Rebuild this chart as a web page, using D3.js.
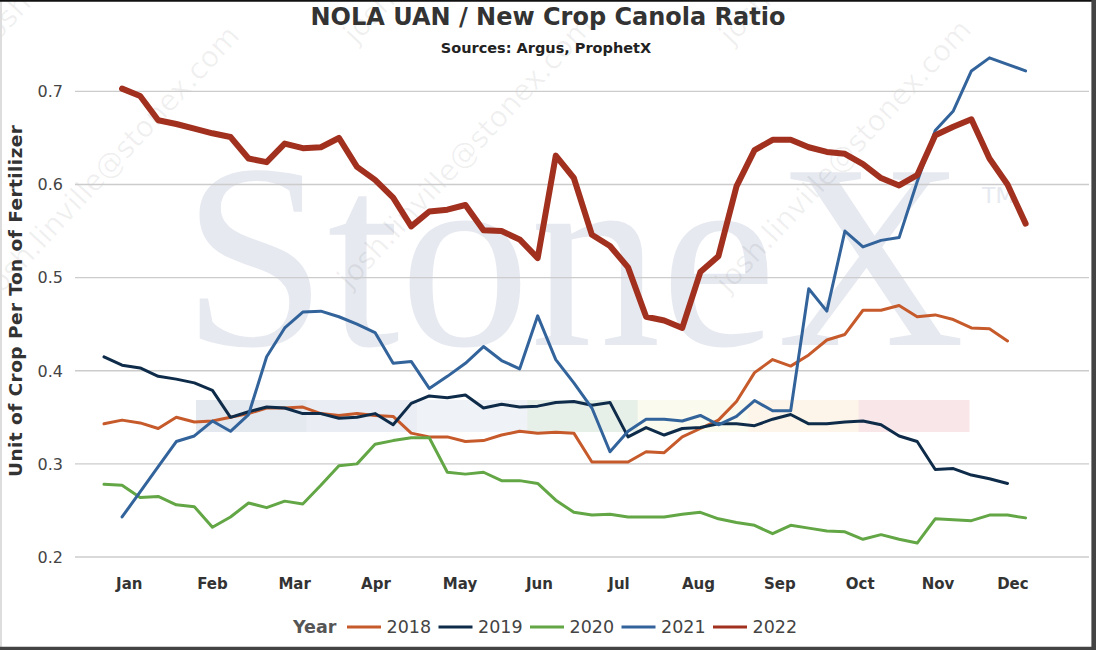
<!DOCTYPE html>
<html lang="en">
<head>
<meta charset="utf-8">
<script src="https://d3js.org/d3.v7.min.js"></script>
<style>
  body { margin: 0; background: #fff; }
  svg { display: block; }
</style>
</head>
<body>
<div class="display1"></div>
<script>
// ---- data (weekly ratio) ----
var years = ['2018', '2019', '2020', '2021', '2022'];
var colors = ['#c65a2b', '#0e2c4a', '#63a645', '#32639b', '#a2301f'];
var firstWeek = [0, 0, 0, 1, 1]; // 2021 and 2022 start one week later
var months = ['Jan', 'Feb', 'Mar', 'Apr', 'May', 'Jun', 'Jul', 'Aug', 'Sep', 'Oct', 'Nov', 'Dec'];
var monthWeeks = [1.4, 6.0, 10.55, 15.05, 19.7, 24.1, 28.5, 32.9, 37.4, 41.85, 46.15, 50.3];
var yTicks = [0.2, 0.3, 0.4, 0.5, 0.6, 0.7];

var r2018 = [0.343,0.347,0.344,0.338,0.350,0.345,0.346,0.350,0.354,0.360,0.360,0.361,0.354,0.352,0.354,0.352,0.351,
  0.333,0.329,0.329,0.324,0.325,0.331,0.335,0.333,0.334,0.333,0.302,0.302,0.302,0.313,0.312,0.329,0.338,0.347,0.367,
  0.398,0.412,0.405,0.417,0.433,0.439,0.465,0.465,0.470,0.458,0.460,0.455,0.446,0.445,0.432];
var r2019 = [0.415,0.406,0.403,0.394,0.391,0.387,0.379,0.350,0.356,0.361,0.360,0.354,0.354,0.349,0.350,0.354,0.342,
  0.365,0.373,0.371,0.374,0.360,0.364,0.361,0.362,0.366,0.367,0.363,0.366,0.329,0.339,0.331,0.338,0.339,0.343,0.343,
  0.341,0.348,0.353,0.343,0.343,0.345,0.346,0.342,0.330,0.324,0.294,0.295,0.288,0.284,0.279];
var r2020 = [0.278,0.277,0.264,0.265,0.256,0.254,0.232,0.243,0.258,0.253,0.260,0.257,0.277,0.298,0.300,0.321,0.325,
  0.328,0.328,0.291,0.289,0.291,0.282,0.282,0.279,0.261,0.248,0.245,0.246,0.243,0.243,0.243,0.246,0.248,0.241,0.237,
  0.234,0.225,0.234,0.231,0.228,0.227,0.219,0.224,0.219,0.215,0.241,0.240,0.239,0.245,0.245,0.242];
var r2021 = [0.243,0.270,0.297,0.324,0.330,0.346,0.335,0.353,0.415,0.446,0.463,0.464,0.458,0.450,0.441,0.408,0.410,
  0.381,0.394,0.408,0.426,0.411,0.402,0.459,0.412,0.387,0.360,0.313,0.335,0.348,0.348,0.346,0.352,0.342,0.351,0.368,
  0.357,0.357,0.488,0.464,0.550,0.533,0.540,0.543,0.603,0.658,0.679,0.722,0.736,0.729,0.722];
var r2022 = [0.703,0.695,0.669,0.665,0.660,0.655,0.651,0.628,0.624,0.644,0.639,0.640,0.650,0.619,0.605,0.586,0.555,
  0.571,0.573,0.578,0.551,0.550,0.541,0.521,0.631,0.607,0.546,0.534,0.511,0.458,0.454,0.446,0.506,0.523,0.598,0.637,
  0.648,0.648,0.640,0.635,0.633,0.622,0.607,0.599,0.610,0.653,0.662,0.670,0.628,0.600,0.558];

var series = [r2018, r2019, r2020, r2021, r2022];

var width = 1096, height = 650;
var font = "'DejaVu Sans', Verdana, sans-serif";

var svg = d3.select('.display1').append('svg')
  .attr('width', width).attr('height', height)
  .style('font-family', font);

svg.append('rect').attr('width', width).attr('height', height).attr('fill', '#fff');

var x = d3.scaleLinear().domain([0, 51]).range([104, 1025.6]);
var y = d3.scaleLinear().domain([0.2, 0.7]).range([557, 91.4]);

// ---- watermark ----
var wm = svg.append('g');
var bandColors = ['#e4e8ef', '#eaedf3', '#eff2f7', '#e7efe9', '#fafaee', '#fdf5e9', '#f8e6e8'];
var bandW = (969 - 196) / bandColors.length;
wm.selectAll('rect.band').data(bandColors).join('rect')
  .attr('class', 'band')
  .attr('x', function(d, i) { return 196 + i * bandW; })
  .attr('y', 400).attr('width', bandW + 0.5).attr('height', 32)
  .attr('fill', function(d) { return d; });

wm.append('text')
  .attr('x', 182).attr('y', 345)
  .attr('textLength', 783).attr('lengthAdjust', 'spacingAndGlyphs')
  .style('font-family', "'Liberation Serif', 'Times New Roman', serif")
  .style('font-size', '264px')
  .attr('fill', '#e6e9f0')
  .text('StoneX');
wm.append('text')
  .attr('x', 982).attr('y', 203)
  .style('font-size', '22px')
  .attr('fill', '#e6e9f0')
  .text('TM');

[[-4, 300], [350, 290], [728, 294], [-8, 48], [356, 45], [732, 46]].forEach(function(p) {
  wm.append('text')
    .attr('transform', 'translate(' + p[0] + ',' + p[1] + ') rotate(-47)')
    .style('font-size', '29px')
    .attr('fill', '#000').attr('fill-opacity', 0.06)
    .text('josh.linville@stonex.com');
});

// ---- grid + y ticks ----
svg.append('g').selectAll('line').data(yTicks).join('line')
  .attr('x1', 75).attr('x2', 1089)
  .attr('y1', function(d) { return y(d); }).attr('y2', function(d) { return y(d); })
  .attr('stroke', '#cccccc').attr('stroke-width', 1.4);

svg.append('g').selectAll('text').data(yTicks).join('text')
  .attr('x', 63).attr('y', function(d) { return y(d); })
  .attr('dy', '0.36em')
  .attr('text-anchor', 'end')
  .style('font-size', '16px')
  .attr('fill', '#444')
  .text(function(d) { return d3.format('.1f')(d); });

// x month labels
svg.append('g').selectAll('text').data(months).join('text')
  .attr('x', function(d, i) { return x(monthWeeks[i]); })
  .attr('y', 589)
  .attr('text-anchor', 'middle')
  .style('font-size', '15px').style('font-weight', 'bold')
  .attr('fill', '#333')
  .text(function(d) { return d; });

// ---- lines ----
var line = d3.line()
  .x(function(d) { return x(d.w); })
  .y(function(d) { return y(d.v); });

series.forEach(function(s, k) {
  var pts = s.map(function(v, i) { return {w: i + firstWeek[k], v: v}; });
  svg.append('path')
    .attr('d', line(pts))
    .attr('fill', 'none')
    .attr('stroke', colors[k])
    .attr('stroke-width', k == 4 ? 6 : 3)
    .attr('stroke-linejoin', 'round')
    .attr('stroke-linecap', 'round');
});

// ---- titles ----
svg.append('text')
  .attr('x', 548).attr('y', 25)
  .attr('text-anchor', 'middle')
  .style('font-size', '24px').style('font-weight', 'bold')
  .attr('fill', '#333')
  .text('NOLA UAN / New Crop Canola Ratio');
svg.append('text')
  .attr('x', 546).attr('y', 53)
  .attr('text-anchor', 'middle')
  .style('font-size', '14.5px').style('font-weight', 'bold')
  .attr('fill', '#222')
  .text('Sources: Argus, ProphetX');
svg.append('text')
  .attr('transform', 'translate(22,301) rotate(-90)')
  .attr('text-anchor', 'middle')
  .attr('textLength', 352).attr('lengthAdjust', 'spacing')
  .style('font-size', '18.5px').style('font-weight', 'bold')
  .attr('fill', '#333')
  .text('Unit of Crop Per Ton of Fertilizer');

// ---- legend ----
var legend = svg.append('g');
legend.append('text')
  .attr('x', 293).attr('y', 633)
  .style('font-size', '17.5px').style('font-weight', 'bold')
  .attr('fill', '#555')
  .text('Year');
var items = legend.selectAll('g.item').data(years).join('g')
  .attr('class', 'item')
  .attr('transform', function(d, i) { return 'translate(' + (347 + i * 91.5) + ',627)'; });
items.append('line')
  .attr('x1', 0).attr('x2', 34)
  .attr('stroke', function(d, i) { return colors[i]; })
  .attr('stroke-width', 3);
items.append('text')
  .attr('x', 39.5).attr('y', 6)
  .style('font-size', '17.5px')
  .attr('fill', '#444')
  .text(function(d) { return d; });

// ---- frame ----
svg.append('line').attr('x1', 1).attr('x2', 1).attr('y1', 0).attr('y2', height)
  .attr('stroke', '#dddddd').attr('stroke-width', 2);
svg.append('line').attr('x1', 0).attr('x2', width).attr('y1', 0.8).attr('y2', 0.8)
  .attr('stroke', '#111').attr('stroke-width', 1.7);
svg.append('line').attr('x1', 1093.7).attr('x2', 1093.7).attr('y1', 0).attr('y2', height)
  .attr('stroke', '#444').attr('stroke-width', 4.6);
svg.append('line').attr('x1', 0).attr('x2', width).attr('y1', 648.4).attr('y2', 648.4)
  .attr('stroke', '#444').attr('stroke-width', 3.4);
</script>
</body>
</html>
